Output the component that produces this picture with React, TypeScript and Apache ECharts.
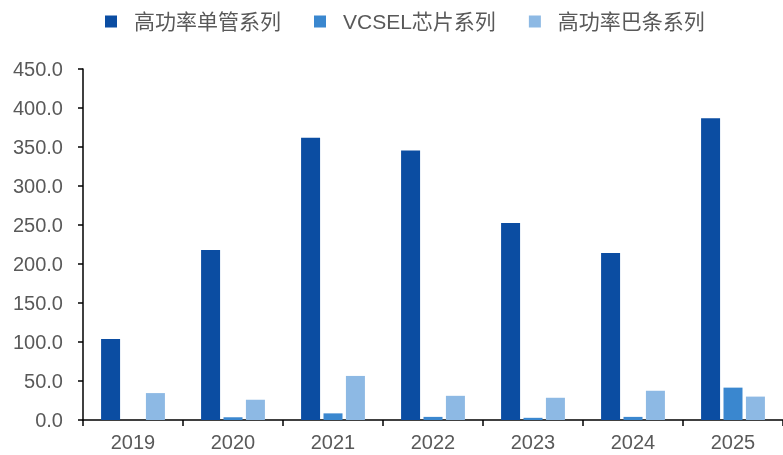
import React, { useEffect, useRef } from "react";
import * as echarts from "echarts";

const categories = ["2019", "2020", "2021", "2022", "2023", "2024", "2025"];
const seriesNames = ["高功率单管系列", "VCSEL芯片系列", "高功率巴条系列"];
const singleEmitter = [104, 218, 362, 345.5, 252.5, 214, 387];
const vcselChip = [0, 3.5, 8.5, 4, 2.8, 4, 41.5];
const laserBar = [34.5, 26, 56.5, 31, 28.5, 37.5, 30];
const colors = ["#0B4DA2", "#3A87CF", "#8DB9E4"];

export default function App() {
  const ref = useRef<HTMLDivElement>(null);
  useEffect(() => {
    if (!ref.current) return;
    const chart = echarts.init(ref.current, null, { renderer: "svg" });
    const values = [singleEmitter, vcselChip, laserBar];
    chart.setOption({
      animation: false,
      color: colors,
      legend: {
        top: 6,
        left: 100,
        itemWidth: 12,
        itemHeight: 12,
        itemGap: 33,
        icon: "rect",
        textStyle: {
          fontSize: 21,
          color: "#595959",
          fontFamily: "Arial, 'Noto Sans CJK SC', sans-serif",
          padding: [0, 0, 0, 12],
        },
        data: seriesNames,
      },
      grid: { left: 83, right: 0, top: 69, bottom: 35, containLabel: false },
      xAxis: {
        type: "category",
        data: categories,
        axisLine: { lineStyle: { color: "#000", width: 1.5 } },
        axisTick: { show: true, length: 6, lineStyle: { color: "#000", width: 1.5 } },
        axisLabel: {
          fontSize: 20,
          color: "#595959",
          margin: 12,
          fontFamily: "Arial, Liberation Sans, sans-serif",
        },
      },
      yAxis: {
        type: "value",
        min: 0,
        max: 450,
        interval: 50,
        splitLine: { show: false },
        axisLine: { show: true, lineStyle: { color: "#000", width: 1.5 } },
        axisTick: { show: true, length: 5, lineStyle: { color: "#000", width: 1.5 } },
        axisLabel: {
          fontSize: 20,
          color: "#595959",
          margin: 20,
          fontFamily: "Arial, Liberation Sans, sans-serif",
          formatter: (v: number) => v.toFixed(1),
        },
      },
      series: seriesNames.map((name, i) => ({
        name,
        type: "bar",
        data: values[i],
        barWidth: 19,
        barGap: "18%",
        itemStyle: { color: colors[i] },
      })),
    });
    return () => chart.dispose();
  }, []);
  return (
    <div
      ref={ref}
      style={{ position: "fixed", left: 0, top: 0, width: 783, height: 455 }}
    />
  );
}
